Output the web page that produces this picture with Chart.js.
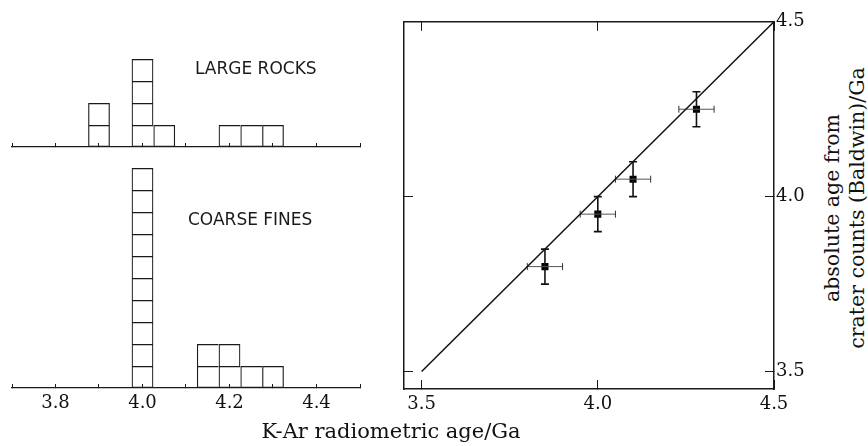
<!DOCTYPE html>
<html>
<head>
<meta charset="utf-8">
<script src="https://cdn.jsdelivr.net/npm/chart.js@4.4.1/dist/chart.umd.min.js"></script>
<style>
body{margin:0;background:#fff;width:868px;height:446px;position:relative;overflow:hidden;font-family:"DejaVu Serif",serif;color:#111}
canvas{position:absolute}
.tag{position:absolute;font-family:"DejaVu Sans",sans-serif;font-size:17px;line-height:1;color:#1a1a1a;white-space:nowrap}
#xTitle{position:absolute;left:191px;top:421px;width:400px;text-align:center;font-size:21px;line-height:1;white-space:nowrap}
#yTitle{position:absolute;left:695px;top:183px;width:300px;height:50px;text-align:center;font-size:20.5px;line-height:25px;white-space:nowrap;transform:rotate(-90deg);transform-origin:center}
</style>
</head>
<body>

<canvas id="topHist" width="370" height="150" style="left:0px;top:0px"></canvas>
<canvas id="botHist" width="370" height="280" style="left:0px;top:140px"></canvas>
<canvas id="ageChart" width="430" height="420" style="left:390px;top:0px"></canvas>

<div class="tag" style="left:195px;top:60px">LARGE ROCKS</div>
<div class="tag" style="left:188px;top:211px">COARSE FINES</div>
<div id="xTitle">K-Ar radiometric age/Ga</div>
<div id="yTitle">absolute age from<br>crater counts (Baldwin)/Ga</div>

<script>
// histogram data (bin centre in Ga, number of samples)
const histTicks = [3.7, 3.8, 3.9, 4.0, 4.1, 4.2, 4.3, 4.4, 4.5];
const histLabels = ["3.8", "4.0", "4.2", "4.4"];
const binWidth = 0.05;
const rockBins = [3.9, 4.0, 4.05, 4.2, 4.25, 4.3];
const rockCounts = [2, 4, 1, 1, 1, 1];
const fineBins = [4.0, 4.15, 4.2, 4.25, 4.3];
const fineCounts = [10, 2, 2, 1, 1];

// K-Ar age vs crater count age
const krAge = [3.85, 4.0, 4.1, 4.28];
const craterAge = [3.8, 3.95, 4.05, 4.25];
const krErr = [0.05, 0.05, 0.05, 0.05];
const craterErr = [0.05, 0.05, 0.05, 0.05];
const lineX = [3.5, 4.5];
const lineY = [3.5, 4.5];
const ageTicks = [3.5, 4.0, 4.5];

const ink = "#1a1a1a";
const lw = 1.2;

/* one dataset per level so every sample is its own box */
function unitBoxes(bins, counts){
const top = Math.max(...counts);
const sets = [];
for(let k = 1; k <= top; k++){
const pts = bins.filter((b,i)=>counts[i] >= k);
sets.push({
data: pts.map(b=>({x:b, y:1})),
stack: "h",
backgroundColor: "rgba(0,0,0,0)",
borderColor: ink,
// shared edges drawn once
borderWidth: pts.map(b=>({
top: lw,
left: lw,
bottom: k === 1 ? lw : 0,
right: pts.some(o=>Math.abs(o - b - binWidth) < 1e-6) ? 0 : lw
})),
borderSkipped: false,
inflateAmount: 0,
barPercentage: 1,
categoryPercentage: 1
});
}
return sets;
}

function histChart(id, bins, counts, yMax, showLabels, padding, axisH){
new Chart(document.getElementById(id),{
type: "bar",
data: {datasets: unitBoxes(bins, counts)},
options: {
responsive: false,
animation: false,
devicePixelRatio: 1,
layout: {padding: padding},
plugins: {legend:{display:false}, tooltip:{enabled:false}},
scales: {
x: {
type: "linear",
min: 3.7, max: 4.5,
offset: false,
afterBuildTicks: s=>{ s.ticks = histTicks.map(v=>({value:v})); },
afterFit: s=>{ s.height = axisH; },
grid: {drawOnChartArea:false, offset:false, tickLength:-4, color:ink, tickWidth:1},
border: {color:ink, width:1.2},
ticks: {
display: showLabels,
autoSkip: false,
maxRotation: 0,
padding: 9,
color: "#111",
font: {family:"DejaVu Serif", size:18},
callback: v=>histLabels.includes(v.toFixed(1)) ? v.toFixed(1) : ""
}
},
y: {display:false, min:0, max:yMax}
}
}
});
}

histChart("topHist", rockBins, rockCounts, 5, false, {left:12, right:10, top:37, bottom:3}, 0);
histChart("botHist", fineBins, fineCounts, 11, true, {left:12, right:10, top:6, bottom:0}, 32);

/* ERROR BARS */

const errSets = [];
krAge.forEach((x,i)=>{
const y = craterAge[i];
errSets.push({
data: [{x:x-krErr[i], y:y}, {x:x+krErr[i], y:y}],
showLine: true,
borderColor: "#555",
borderWidth: 1,
pointStyle: "line",
pointRotation: 90,
pointRadius: 3.5,
pointBorderColor: "#333",
pointBorderWidth: 1
});
errSets.push({
data: [{x:x, y:y-craterErr[i]}, {x:x, y:y+craterErr[i]}],
showLine: true,
borderColor: "#111",
borderWidth: 1.6,
pointStyle: "line",
pointRotation: 0,
pointRadius: 4,
pointBorderColor: "#111",
pointBorderWidth: 1.6
});
});

const setTicks = s=>{ s.ticks = ageTicks.map(v=>({value:v})); };
const tickFont = {family:"DejaVu Serif", size:18};

new Chart(document.getElementById("ageChart"),{
type: "scatter",
data: {
datasets: [
{
data: lineX.map((x,i)=>({x:x, y:lineY[i]})),
showLine: true,
borderColor: "#111",
borderWidth: 1.5,
pointRadius: 0
},
...errSets,
{
data: krAge.map((x,i)=>({x:x, y:craterAge[i]})),
pointStyle: "rect",
pointRadius: 5,
pointBackgroundColor: "#000",
pointBorderColor: "#000",
pointBorderWidth: 0
}
]
},
options: {
responsive: false,
animation: false,
devicePixelRatio: 1,
layout: {padding:{left:14, top:15, right:0, bottom:0}},
plugins: {legend:{display:false}, tooltip:{enabled:false}},
scales: {
x: {
type: "linear", position: "bottom", min: 3.45, max: 4.5,
afterBuildTicks: setTicks,
afterFit: s=>{ s.height = 31; },
grid: {drawOnChartArea:false, tickLength:-9, color:ink},
border: {color:ink, width:1.5},
ticks: {padding:14, color:"#111", font:tickFont, maxRotation:0, callback:v=>v.toFixed(1)}
},
x2: {
type: "linear", position: "top", min: 3.45, max: 4.5,
afterBuildTicks: setTicks,
afterFit: s=>{ s.height = 0; },
grid: {drawOnChartArea:false, tickLength:-9, color:ink},
border: {color:ink, width:1.5},
ticks: {display:false}
},
y: {
type: "linear", position: "left", min: 3.45, max: 4.5,
afterBuildTicks: setTicks,
afterFit: s=>{ s.width = 0; },
grid: {drawOnChartArea:false, tickLength:-9, color:ink},
border: {color:ink, width:1.5},
ticks: {display:false}
},
y2: {
type: "linear", position: "right", min: 3.45, max: 4.5,
afterBuildTicks: setTicks,
afterFit: s=>{ s.width = 46; },
grid: {drawOnChartArea:false, tickLength:-9, color:ink},
border: {color:ink, width:1.5},
ticks: {padding:11, color:"#111", font:tickFont, callback:v=>v.toFixed(1)}
}
}
}
});
</script>
</body>
</html>
